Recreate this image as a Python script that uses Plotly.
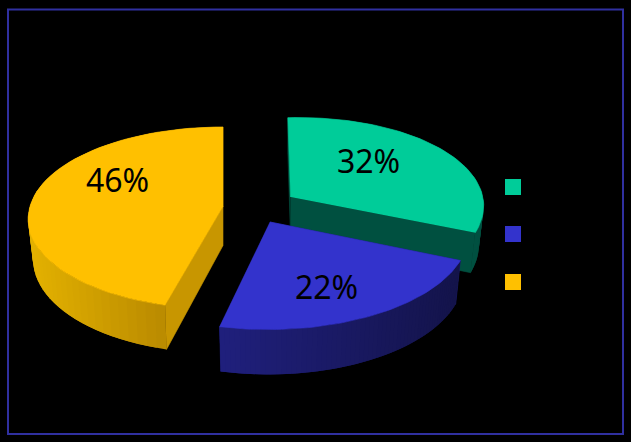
import numpy as np
import plotly.graph_objects as go

# --- data ---
shares = [32, 22, 46]
labels = ["32%", "22%", "46%"]
top_colors = ["#00CC99", "#3333CC", "#FFC000"]

# --- drawing constants (pixels) ---
W, H = 631, 442
GEOM = [
    dict(cx=290.5, cy=197, R=191, S=90, sh=3, fs=0, tl=5, K=0.135, D=39, D1=4),
    dict(cx=270, cy=222, R=196, S=93, sh=5, fs=0, tl=3.6, K=0.135, D=42.5, D1=5),
    dict(cx=223, cy=206.5, R=193, S=89.5, sh=0, fs=-3, tl=0, K=0.125, D=39, D1=8),
]
CUT = ["#005040", "#1C1C70", "#C89600"]
WALL_L = [(0, 80, 64), (32, 32, 125), (228, 178, 0)]
WALL_R = [(0, 80, 64), (20, 20, 75), (168, 122, 0)]
LABEL_POS = [(368, 160), (326, 286), (117, 179)]
SWATCH_X = 513
SWATCH_Y = [187, 234, 282]
BOTTOM = 0.975


def project(g, theta, bottom=False):
    X, Y = np.sin(theta), np.cos(theta)
    w = 1 + g["K"] * Y
    sc = BOTTOM if bottom else 1.0
    x = g["cx"] + sc * (g["R"] * X - g["sh"] * Y + g["fs"] * np.maximum(-Y, 0)) / w
    y = g["cy"] - sc * (g["S"] * Y + g["tl"] * X) / w
    if bottom:
        y = y + g["D"] - g["D1"] * Y
    return x, y


def apex(g, bottom=False):
    return g["cx"], g["cy"] + (g["D"] if bottom else 0)


fig = go.Figure()


def poly(xs, ys, color, lw=0.6):
    fig.add_trace(go.Scatter(x=list(xs), y=list(ys), fill="toself", fillcolor=color, mode="lines",
                             line=dict(color=color, width=lw), hoverinfo="skip", showlegend=False))


fractions = np.cumsum([0] + shares) / sum(shares)
for i, g in enumerate(GEOM):
    a0, a1 = 2 * np.pi * fractions[i], 2 * np.pi * fractions[i + 1]
    # cut faces
    for a in (a0, a1):
        px, py = project(g, a)
        bx, by = project(g, a, True)
        ax, ay = apex(g)
        cx, cy = apex(g, True)
        poly([ax, px, bx, cx], [ay, py, by, cy], CUT[i])
    # outer wall, shaded in overlapping bands so no seams show
    th = np.linspace(a0, a1, 61)
    xt, yt = project(g, th)
    xb, yb = project(g, th, True)
    lo, hi = xt.min(), xt.max()
    for j in range(60):
        f = ((xt[j] + xt[j + 1]) / 2 - lo) / max(hi - lo, 1)
        c = [int(WALL_L[i][n] + (WALL_R[i][n] - WALL_L[i][n]) * f) for n in range(3)]
        k = min(j + 2, 60)
        poly([xt[j], xt[k], xb[k], xb[j]], [yt[j], yt[k], yb[k], yb[j]],
             f"rgb({c[0]},{c[1]},{c[2]})", lw=0)
    # top
    ax, ay = apex(g)
    poly([ax, *xt], [ay, *yt], top_colors[i])

fig.add_trace(go.Scatter(x=[SWATCH_X] * 3, y=SWATCH_Y, mode="markers",
                         marker=dict(symbol="square", size=16, color=top_colors, line=dict(width=0)),
                         hoverinfo="skip", showlegend=False))

for (x, y), t in zip(LABEL_POS, labels):
    fig.add_annotation(x=x, y=y, text=t, showarrow=False, xref="x", yref="y",
                       font=dict(family="Noto Sans", size=32, color="black"))

fig.add_shape(type="rect", x0=8, y0=9.5, x1=623, y1=434, xref="x", yref="y",
              line=dict(color="#3030A0", width=2), fillcolor="rgba(0,0,0,0)")

fig.update_layout(
    width=W, height=H, margin=dict(l=0, r=0, t=0, b=0),
    paper_bgcolor="black", plot_bgcolor="black", showlegend=False,
    xaxis=dict(range=[0, W], visible=False, fixedrange=True),
    yaxis=dict(range=[H, 0], visible=False, fixedrange=True),
)
fig.write_html("out.html", config=dict(displayModeBar=False),
               post_script="document.body.style.margin='0';document.body.style.background='black';")
